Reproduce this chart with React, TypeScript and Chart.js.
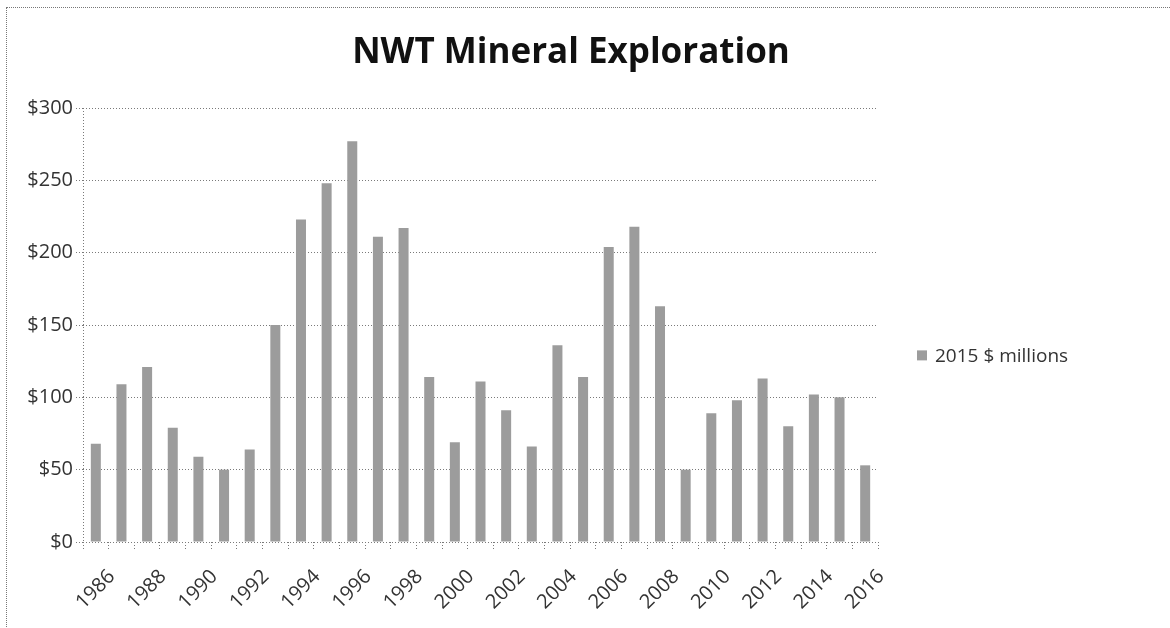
import React, { useEffect, useRef } from "react";
import { Chart, registerables } from "chart.js";

Chart.register(...registerables);

const titleText = "NWT Mineral Exploration";
const seriesLabel = "2015 $ millions";
const years = [
  "1986", "1987", "1988", "1989", "1990", "1991", "1992", "1993", "1994", "1995",
  "1996", "1997", "1998", "1999", "2000", "2001", "2002", "2003", "2004", "2005",
  "2006", "2007", "2008", "2009", "2010", "2011", "2012", "2013", "2014", "2015", "2016",
];
const values = [
  68, 109, 121, 79, 59, 50, 64, 150, 223, 248,
  277, 211, 217, 114, 69, 111, 91, 66, 136, 114,
  204, 218, 163, 50, 89, 98, 113, 80, 102, 100, 53,
];
const yMin = 0;
const yMax = 300;
const yStep = 50;

const FONT = '"Open Sans", "DejaVu Sans", sans-serif';
const BAR_COLOR = "#9c9c9c";
const GRID_COLOR = "#7a7a7a";
const TEXT_COLOR = "#333333";

const sideLegend = {
  id: "sideLegend",
  afterDraw(chart: any) {
    const { ctx, chartArea } = chart;
    const cy = chartArea.top + (chartArea.bottom - chartArea.top) * 0.57;
    const x0 = chartArea.right + 39;
    ctx.save();
    ctx.fillStyle = BAR_COLOR;
    ctx.fillRect(x0, cy - 5, 10, 10);
    ctx.font = `19px ${FONT}`;
    ctx.fillStyle = TEXT_COLOR;
    ctx.textBaseline = "middle";
    ctx.textAlign = "left";
    ctx.fillText(seriesLabel, x0 + 18, cy + 1);
    ctx.restore();
  },
};

export default function App() {
  const canvasRef = useRef<HTMLCanvasElement | null>(null);

  useEffect(() => {
    let chart: Chart | null = null;
    let cancelled = false;
    const make = () => {
      if (cancelled || !canvasRef.current) return;
      chart = new Chart(canvasRef.current, {
        type: "bar",
        data: {
          labels: years,
          datasets: [
            {
              label: seriesLabel,
              data: values,
              backgroundColor: BAR_COLOR,
              borderWidth: 0,
              categoryPercentage: 1,
              barPercentage: 0.39,
            },
          ],
        },
        options: {
          responsive: false,
          animation: false,
          layout: { padding: { top: 32, left: 0, right: 28, bottom: 0 } },
          plugins: {
            legend: { display: false },
            tooltip: { enabled: false },
            title: {
              display: true,
              text: titleText,
              color: "#111111",
              font: { family: FONT, size: 35, weight: "bold" },
              padding: { top: 0, bottom: 34 },
            },
          },
          scales: {
            x: {
              afterFit: (s: any) => {
                s.height = 86;
              },
              grid: {
                offset: true,
                drawOnChartArea: true,
                color: (ctx: any) => (ctx.index === 0 ? GRID_COLOR : "rgba(0,0,0,0)"),
                tickColor: GRID_COLOR,
                tickLength: 8,
                tickBorderDash: [1, 2],
              },
              border: { display: false, dash: [1, 2] },
              ticks: {
                autoSkip: false,
                minRotation: 45,
                maxRotation: 45,
                color: TEXT_COLOR,
                font: { family: FONT, size: 20 },
                padding: 15,
                labelOffset: 16,
                callback: (_v: any, i: number) => (i % 2 === 0 ? years[i] : ""),
              },
            },
            y: {
              min: yMin,
              max: yMax,
              afterFit: (s: any) => {
                s.width = 83;
              },
              grid: {
                color: GRID_COLOR,
                tickColor: GRID_COLOR,
                tickLength: 7,
                tickBorderDash: [1, 2],
              },
              border: { display: false, dash: [1, 2] },
              ticks: {
                stepSize: yStep,
                color: TEXT_COLOR,
                font: { family: FONT, size: 20 },
                padding: 3,
                callback: (v: any) => "$" + v,
              },
            },
            legendSpace: {
              type: "linear",
              position: "right",
              display: true,
              afterFit: (s: any) => {
                s.width = 264;
              },
              grid: { display: false, drawOnChartArea: false },
              border: { display: false },
              ticks: { display: false },
            },
          },
        },
        plugins: [sideLegend],
      });
    };
    const fontsApi: any = (document as any).fonts;
    if (fontsApi && fontsApi.load) {
      Promise.all([
        fontsApi.load(`20px "Open Sans"`),
        fontsApi.load(`bold 35px "Open Sans"`),
      ])
        .catch(() => null)
        .then(make);
    } else {
      make();
    }
    return () => {
      cancelled = true;
      if (chart) chart.destroy();
    };
  }, []);

  return (
    <div style={{ position: "fixed", left: 0, top: 0, width: 1170, height: 628, background: "#ffffff" }}>
      <div
        style={{
          position: "absolute",
          left: 6,
          top: 7,
          width: 1170,
          height: 628,
          borderTop: "1px dotted #777",
          borderLeft: "1px dotted #777",
          boxSizing: "border-box",
        }}
      />
      <canvas ref={canvasRef} width={1170} height={628} style={{ position: "absolute", left: 0, top: 0 }} />
    </div>
  );
}
